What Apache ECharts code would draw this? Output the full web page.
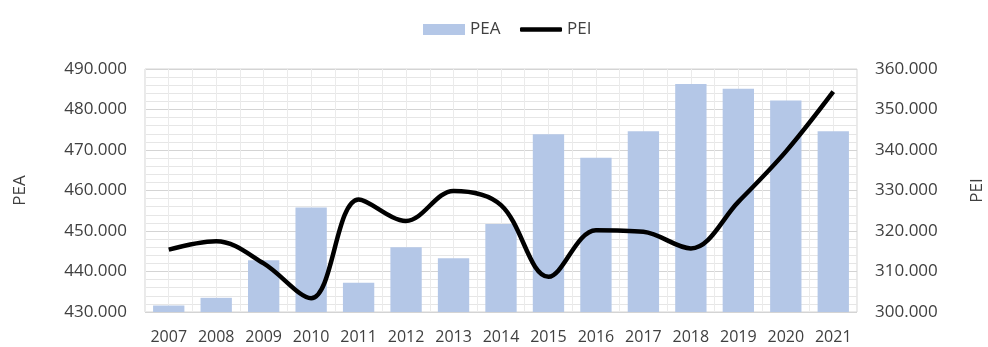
<!DOCTYPE html>
<html>
<head>
<meta charset="utf-8">
<script src="https://cdn.jsdelivr.net/npm/echarts@6/dist/echarts.min.js"></script>
<style>
  html, body { margin: 0; padding: 0; background: #fff; }
  #chart { width: 988px; height: 347px; }
</style>
</head>
<body>
<div id="chart"></div>
<script>
// Years on the category axis
const years = ['2007', '2008', '2009', '2010', '2011', '2012', '2013', '2014',
               '2015', '2016', '2017', '2018', '2019', '2020', '2021'];
// PEA (bars, left axis)
const peaValues = [431600, 433500, 442800, 455800, 437200, 446000, 443300, 451700,
                   473900, 468100, 474600, 486300, 485100, 482200, 474600];
// PEI (smoothed line, right axis)
const peiValues = [315400, 317500, 312000, 303400, 327800, 322500, 329900, 326400,
                   308700, 320200, 319800, 315700, 327200, 339600, 354400];

const textColor = '#404040';
const fontFamily = '"Open Sans", sans-serif';
const barColor = '#b4c7e7';

// 490000 -> "490.000"
function fmt(v) {
  return String(Math.round(v)).replace(/\B(?=(\d{3})+(?!\d))/g, '.');
}

const chart = echarts.init(document.getElementById('chart'), null, { renderer: 'canvas' });

const legendText = { fontSize: 17, color: textColor, fontFamily: fontFamily };

chart.setOption({
  animation: false,
  backgroundColor: '#ffffff',
  textStyle: { fontFamily: fontFamily, color: textColor },
  legend: [
    {
      top: 16,
      left: 418,
      itemWidth: 42,
      itemHeight: 11,
      itemGap: 6,
      textStyle: legendText,
      data: [{ name: 'PEA', icon: 'rect' }]
    },
    {
      top: 16,
      left: 515,
      itemWidth: 42,
      itemHeight: 4.5,
      textStyle: legendText,
      data: [{ name: 'PEI', icon: 'roundRect', itemStyle: { color: '#000000' } }]
    }
  ],
  grid: {
    left: 145, right: 131, top: 69, bottom: 35,
    outerBoundsMode: 'none',
    containLabel: false,
    show: true,
    borderColor: '#d4d4d4',
    borderWidth: 1
  },
  xAxis: [
    {
      type: 'category',
      data: years,
      boundaryGap: true,
      axisLine: { show: false },
      axisTick: { show: false },
      axisLabel: { color: textColor, fontSize: 16, margin: 17, interval: 0, fontFamily: fontFamily },
      splitLine: { show: true, interval: 0, lineStyle: { color: '#d4d4d4', width: 1 } }
    },
    {
      // light guide lines through the middle of each year
      type: 'value',
      min: 0,
      max: 30,
      interval: 1,
      show: true,
      position: 'bottom',
      axisLine: { show: false },
      axisTick: { show: false },
      axisLabel: { show: false },
      splitLine: { show: true, lineStyle: { color: '#ebebeb', width: 1 } }
    }
  ],
  yAxis: [
    {
      type: 'value',
      name: 'PEA',
      nameLocation: 'middle',
      nameGap: 116,
      nameRotate: 90,
      nameTextStyle: legendText,
      min: 430000,
      max: 490000,
      interval: 10000,
      axisLine: { show: false },
      axisTick: { show: false },
      axisLabel: { color: textColor, fontSize: 17, margin: 18, formatter: fmt, fontFamily: fontFamily },
      splitLine: { show: true, lineStyle: { color: '#d4d4d4', width: 1 } },
      minorTick: { show: false, splitNumber: 5 },
      minorSplitLine: { show: true, lineStyle: { color: '#e6e6e6', width: 1 } }
    },
    {
      type: 'value',
      name: 'PEI',
      nameLocation: 'middle',
      nameGap: 112,
      nameRotate: 90,
      nameTextStyle: legendText,
      min: 300000,
      max: 360000,
      interval: 10000,
      position: 'right',
      axisLine: { show: false },
      axisTick: { show: false },
      axisLabel: { color: textColor, fontSize: 17, margin: 18, formatter: fmt, fontFamily: fontFamily },
      splitLine: { show: false }
    }
  ],
  series: [
    {
      name: 'PEA',
      type: 'bar',
      xAxisIndex: 0,
      yAxisIndex: 0,
      data: peaValues,
      barCategoryGap: '34%',
      itemStyle: { color: barColor },
      z: 2
    },
    {
      name: 'PEI',
      type: 'line',
      xAxisIndex: 0,
      yAxisIndex: 1,
      data: peiValues,
      smooth: 0.35,
      symbol: 'none',
      showSymbol: false,
      lineStyle: { color: '#000000', width: 4.5 },
      itemStyle: { color: '#000000' },
      z: 3
    }
  ]
});
</script>
</body>
</html>
